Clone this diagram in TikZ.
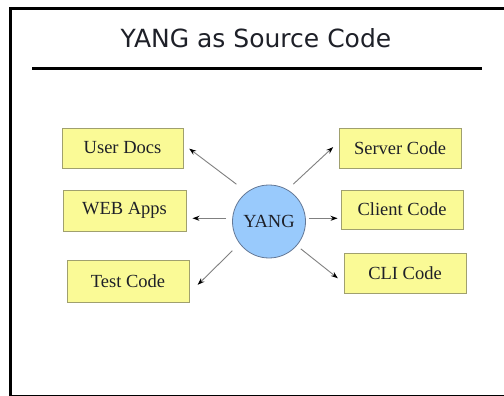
\documentclass[tikz,border=0pt]{standalone}
\usepackage{fontspec}
\setmainfont{Liberation Serif}
\newfontfamily\titlefont{DejaVu Sans}
\usetikzlibrary{arrows.meta}
\definecolor{boxfill}{RGB}{250,250,150}
\definecolor{boxline}{RGB}{160,160,110}
\definecolor{yangfill}{RGB}{153,202,252}
\definecolor{yangline}{RGB}{100,120,150}
\definecolor{txt}{RGB}{30,32,40}
\tikzset{
  target/.style={draw=boxline, fill=boxfill, line width=0.9pt, minimum width=121pt,
    minimum height=40pt, inner sep=0pt, font=\fontsize{18.5}{20}\selectfont, text=txt},
  hub/.style={circle, draw=yangline, fill=yangfill, line width=0.8pt, minimum size=73pt,
    inner sep=0pt, font=\fontsize{18.5}{20}\selectfont, text=txt},
  feed/.style={draw=black!50, line width=0.9pt,
    -{Stealth[length=7pt,width=5pt,color=black]}}
}
\begin{document}
\begin{tikzpicture}[x=1pt,y=-1pt]
\useasboundingbox (0,0) rectangle (504,396);
\clip (0,0) rectangle (504,396);
\fill[white] (0,0) rectangle (504,396);
% slide frame
\draw[line width=3pt, black] (10.5,9) rectangle (540,396);
% title and rule
\node[font=\titlefont\fontsize{25}{28}\selectfont, text=txt] (title) at (256,38) {YANG as Source Code};
\draw[line width=3pt, black] (32,69) -- (482,69);
% central node
\node[hub] (yang) at (269,221.5) {YANG};
% outputs on the left
\node[target] (ud) at (122.5,148) {User Docs};
\node[target, minimum width=123pt, minimum height=41pt] (wa) at (124.5,210.5) {WEB Apps};
\node[target, minimum width=122pt, minimum height=42pt] (tc) at (128,281) {Test Code};
% outputs on the right
\node[target, minimum width=122pt] (sc) at (400,148) {Server Code};
\node[target, minimum width=122pt, minimum height=39pt] (cc) at (402,209.5) {Client Code};
\node[target, minimum width=122pt] (cli) at (405,273) {CLI Code};
% generation arrows
\draw[feed, shorten <=13pt, shorten >=6pt] (yang.127) -- ([shift={(1,-3)}]ud.east);
\draw[feed, shorten <=6pt, shorten >=6pt] (yang.175) -- (wa.east |- yang.175);
\draw[feed, shorten <=10pt, shorten >=6pt] (yang.217) -- ([shift={(4,8)}]tc.east);
\draw[feed, shorten <=8pt, shorten >=6pt] (yang.60) -- ([shift={(-1,-5)}]sc.west);
\draw[feed, shorten <=3pt, shorten >=3pt] (yang.5) -- (cc.west |- yang.5);
\draw[feed, shorten <=5pt, shorten >=6pt] (yang.-41) -- ([shift={(-1,9)}]cli.west);
\end{tikzpicture}
\end{document}
